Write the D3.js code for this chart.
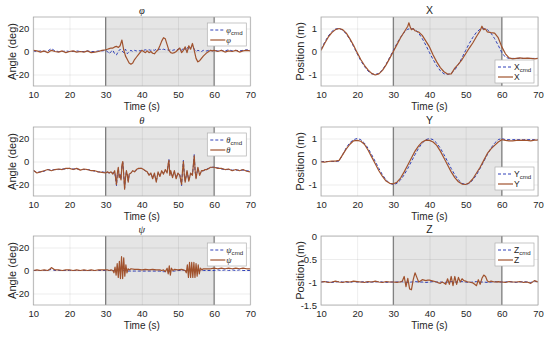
<!DOCTYPE html>
<html>
<head>
<meta charset="utf-8">
<script src="https://cdn.jsdelivr.net/npm/d3@7"></script>
<style>
  body { margin: 0; background: #fff; }
  text { font-family: "Liberation Sans", Arial, sans-serif; fill: #262626; }
</style>
</head>
<body>
<div id="chart"></div>
<script>
// ---- data ----
const timeDomain = [10, 70]
const timeTicks = [10, 20, 30, 40, 50, 60, 70]
const shadeRange = [30, 60]

// roll
const phiTime = [10,11,12,13,14,15,16,17,18,19,20,21,22,23,24,25,26,27,28,29,30,
  30.5,31,31.5,32,32.5,33,33.5,34,34.5,35,35.5,36,36.5,37,37.5,38,38.5,39,39.5,40,
  40.5,41,41.5,42,42.5,43,43.5,44,44.5,45,45.5,46,46.5,47,47.5,48,48.5,49,49.5,50,
  50.5,51,51.5,52,52.5,53,53.5,54,54.5,55,55.5,56,56.5,57,57.5,58,58.5,59,59.5,60,
  61,62,63,64,65,66,67,68,69,70]
const phiAct = [1,0.5,-0.5,0.5,-1,1,0,-0.5,0.5,-1,0,0.5,-0.5,0,-0.5,0.5,-1,-0.5,0,1,1.5,
  2,2.5,3,3,4,4.5,3.5,5,10,1.5,-4,-7,-10,-11,-10,-7,-5,-3,-1,1,
  0,-1,0.5,-1,0,-1.5,-2,0,1.5,5,9,12,11,6,1,-1,-1.5,-1,0,1.5,
  3,-1,1,4,-1,5,2,7,1,-6,-9,-8,-6,-4,-2.5,-1,0,1,0.5,1,
  0,1,-0.5,0.5,0,1,-0.5,0.5,1,0.5]
const phiCmd = [0.5,0,0.5,0,0.5,2.5,0.5,0,0,0.5,0,0,0.5,0,0,0.5,0,0,0.5,0.5,1,
  0,-2,0,1,-2,-3,0,2,0.5,-1,2,-2,0,1,0,1,0.5,1,0.5,1,
  1,1.5,1,1.5,1,1.5,1,2,1.5,2,1.5,2,1.5,1.5,1,1.5,1,1.5,1,2,
  2.5,1,3,1.5,4,2,3.5,5,2,0,1,0.5,0,1,0.5,0.5,1,1,0.5,1,
  0.5,1,0.5,1.5,0.5,1,0.5,1,1.5,1]

// pitch
const thetaTime = [10,11,12,13,14,15,16,17,18,19,20,21,22,23,24,25,26,27,28,29,30,
  30.5,31,31.5,32,32.5,33,33.25,33.5,33.75,34,34.25,34.5,34.75,35,35.25,35.5,35.75,36,36.25,36.5,37,37.5,38,38.5,39,39.5,40,
  40.5,41,41.5,42,42.5,43,43.5,44,44.5,45,45.5,46,46.5,47,47.25,47.5,47.75,48,48.5,49,49.5,50,
  50.5,51,51.25,51.5,51.75,52,52.5,53,53.5,54,54.25,54.5,54.75,55,55.5,56,56.5,57,57.5,58,58.5,59,59.5,60,
  61,62,63,64,65,66,67,68,69,70]
const thetaAct = [-7.5,-10,-9,-8,-7,-8,-7,-6.5,-7,-6,-6,-7,-6,-7.5,-6.5,-7,-8,-8,-9,-9.5,-10,
  -9,-10,-9,-11,-8,-20,-10,-5,-14,-12,-16,-3,0,-12,-24,-14,-8,-12,-18,-11,-10,-8,-9,-7,-6,-6,-6,
  -7,-8,-9,-12,-10,-15,-10,-18,-9,-13,-8,-11,-7,-10,-3,1,-12,-8,-14,-8,-15,-10,
  -12,-20,-8,0,-12,-18,-8,-17,-10,-12,-3,5,-8,-15,-5,-12,-8,-8,-7,-7,-6,-5,-5,-5,
  -6,-6,-7,-6.5,-8,-7,-8,-7,-8.5,-9]
const thetaCmd = [-8,-9.5,-9,-8.5,-7,-7.5,-7,-7,-6.5,-6.5,-6,-6.5,-6.5,-7,-7,-7,-7.5,-8.5,-9,-9,-9.5,
  -9.5,-10,-9.5,-10,-9,-21,-11,-6,-13,-11,-15,-4,-1,-11,-23,-13,-9,-11,-17,-12,-10,-8.5,-8.5,-7.5,-6.5,-6,-6,
  -7,-8.5,-9.5,-11,-10.5,-14,-11,-17,-10,-12,-9,-10,-8,-9,-4,2,-11,-9,-13,-9,-14,-10.5,
  -11,-21,-9,1,-11,-17,-9,-16,-11,-11,-4,6,-9,-14,-6,-11,-8.5,-8,-7.5,-6.5,-6,-5.5,-5,-5,
  -5.5,-6.5,-7,-7,-7.5,-7.5,-7.5,-7.5,-8,-8.5]

// yaw
const psiTime = [10,11,12,13,14,14.5,15,15.5,16,17,18,19,20,21,22,23,24,25,26,27,28,29,30,
  30.5,31,31.5,32,32.3,32.6,32.9,33.2,33.5,33.8,34.1,34.4,34.7,35,35.3,35.6,35.9,36.2,36.6,37,
  38,39,40,41,42,43,44,45,45.5,46,46.5,47,47.3,47.6,47.9,48.2,48.6,49,50,51,
  51.5,52,52.3,52.6,52.9,53.2,53.5,53.8,54.1,54.4,54.7,55,55.3,55.6,55.9,56.2,56.6,57,
  58,59,60,61,62,63,64,65,66,67,68,69,70]
const psiAct = [0,0.5,0,0.5,0,1,2.5,1.5,0.5,0.5,0,0.5,0.5,0,0.5,0,0.5,0,0.5,0,0.5,0.5,0.5,
  0.5,0,0.5,0,-2,3,-4,6,-6,8,-7,12,-7,11,-5,5,-2,1.5,0.5,1.5,
  1,1,0.5,1,0.5,1,0.5,0.5,0,0.5,-1,2,-3,4,-4,2,0,1,0.5,1,
  0.5,0,-2,5,-6,7,-6,7,-6,7,-6,6,-5,5,-3,2,0.5,1.5,
  1.5,1.5,2,1.5,2,1.5,2,1.5,2,1.5,2,1.5,1.5]
const psiCmd = [0,0,0,0,0,0.5,1,0.5,0,0,0,0,0,0,0,0,0,0,0,0,0,0,0,
  0,0,0,0,0,0,0,0,0,0,0,0,0,0,0,0,0,-0.5,-0.5,-0.5,
  -0.5,-0.5,-0.5,-0.5,-0.5,-0.5,-0.5,-0.5,-1,-1,-1,-1,-1,-1,-1,-1,-0.5,-0.5,0,0,
  0,0,0,0,0,0,0,0,0,0,0,0,0,0,0,0,0,0,
  0,0,0,0.5,0,0.5,0,0.5,0,0.5,0,0,0]

// position
const posTime = d3.range(10, 71)   // 1 s samples
const xActTime = [10,11,12,13,14,15,16,17,18,19,20,21,22,23,24,25,26,27,28,29,30,31,32,33,34,
  34.3,34.7,35,35.5,
  36,37,38,39,40,41,42,43,44,45,46,47,48,49,50,51,52,53,54,
  54.5,55,55.5,
  56,57,58,59,60,61,62,63,64,65,66,67,68,69,70]
const xAct = [0.05,0.35,0.62,0.82,0.95,1.0,0.95,0.8,0.55,0.27,-0.05,-0.35,-0.6,-0.8,-0.95,-1.02,-0.97,-0.82,-0.58,-0.3,0.0,0.3,0.6,0.85,1.1,
  1.25,1.05,0.95,1.0,
  0.9,0.85,0.7,0.45,0.2,-0.15,-0.45,-0.7,-0.88,-0.98,-0.97,-0.72,-0.55,-0.35,-0.1,0.15,0.38,0.65,0.9,
  1.1,0.95,0.98,
  0.85,0.82,0.8,0.6,0.2,-0.1,-0.28,-0.32,-0.3,-0.28,-0.3,-0.29,-0.3,-0.32,-0.3]
const xCmd = [0.1,0.4,0.67,0.87,0.98,1.0,0.93,0.76,0.52,0.22,-0.1,-0.4,-0.65,-0.85,-0.97,-1.0,-0.95,-0.8,-0.55,-0.25,
  0.05,0.35,0.62,0.84,0.97,1.0,0.95,0.8,0.56,0.27,-0.05,-0.35,-0.62,-0.84,-0.97,-1.0,-0.95,-0.8,-0.56,-0.27,
  0.05,0.35,0.62,0.84,0.97,1.0,0.95,0.8,0.56,0.27,-0.05,-0.25,-0.3,-0.3,-0.3,-0.3,-0.3,-0.3,-0.3,-0.3,-0.3]

const yAct = [-0.02,-0.03,0.0,0.02,0.02,0.05,0.3,0.55,0.75,0.9,0.92,
  0.88,0.75,0.5,0.2,-0.1,-0.4,-0.65,-0.85,-0.95,-0.97,
  -0.9,-0.72,-0.45,-0.15,0.15,0.45,0.68,0.85,0.93,0.92,
  0.85,0.7,0.45,0.15,-0.15,-0.45,-0.7,-0.88,-0.98,-1.0,
  -0.92,-0.75,-0.5,-0.25,0.05,0.35,0.55,0.7,0.85,0.95,
  0.92,0.9,0.9,0.92,0.92,0.93,0.92,0.9,0.93,0.93]
const yCmd = [0,0,0,0,0,0.02,0.3,0.6,0.82,0.95,1.0,
  0.95,0.8,0.58,0.3,0,-0.3,-0.58,-0.8,-0.95,-1.0,
  -0.95,-0.8,-0.58,-0.3,0,0.3,0.58,0.8,0.95,1.0,
  0.95,0.8,0.58,0.3,0,-0.3,-0.58,-0.8,-0.95,-1.0,
  -0.95,-0.8,-0.58,-0.3,0,0.3,0.58,0.8,0.95,1.0,
  0.95,0.95,0.95,0.95,0.95,0.95,0.95,0.95,0.95,0.95]

const zActTime = [...d3.range(10, 32), ...d3.range(31.5, 57.01, 0.5), ...d3.range(58, 71)]
const zAct = [-1.0,-0.99,-1.01,-1.0,-0.98,-1.0,-1.01,-0.99,-1.0,-0.98,-0.99,-1.0,-1.01,-0.99,-1.0,-0.98,-1.0,-1.01,-0.99,-1.0,-1.0,-1.01,
  -1.0,-1.0,-0.98,-0.88,-1.1,-0.92,-1.15,-1.17,-0.95,-0.8,
  -0.9,-1.0,-0.98,-0.95,-0.96,-0.97,-0.96,-0.96,-0.97,-0.98,
  -0.99,-1.0,-1.02,-1.03,-1.0,-1.02,-1.05,-0.93,-1.05,-0.88,
  -1.08,-0.88,-1.05,-0.9,-1.0,-0.93,-0.97,-0.98,-1.0,-1.0,
  -1.01,-1.02,-1.05,-1.08,-0.95,-1.05,-0.92,-0.85,-0.88,-0.98,
  -1.0,-0.98,
  -1.0,-0.99,-1.0,-1.01,-0.99,-1.0,-1.0,-0.99,-1.01,-1.0,-1.03,-0.97,-1.0]
const zCmd = [-1.0,-0.99,-1.0,-1.01,-1.0,-0.99,-1.0,-1.0,-1.01,-0.99,-1.0,
  -1.0,-0.99,-1.01,-1.0,-1.0,-0.99,-1.0,-1.01,-1.0,-1.0,
  -1.0,-0.99,-1.0,-1.01,-1.0,-0.99,-1.0,-1.0,-1.01,-1.0,
  -0.99,-1.0,-1.0,-1.01,-1.0,-0.99,-1.0,-1.0,-0.99,-1.0,
  -1.01,-1.0,-0.99,-1.0,-1.0,-1.01,-1.0,-0.99,-1.0,-1.0,
  -1.0,-0.99,-1.0,-1.01,-1.0,-0.99,-1.0,-1.01,-0.98,-1.0]

const angleTicks = [-20, 0, 20]
const posTicks = [-1, 0, 1]
const zTicks = [-1.5, -1, -0.5, 0]

// ---- layout ----
const width = 550, height = 337
const colLeft = [33.3, 321]
const plotW = 217
const rowTop = [17, 127, 236]
const plotH = 69
const cmdColor = "#3040b8"
const actColor = "#a0522d"

const panels = [
  {col: 0, row: 0, name: "φ", greek: true, ylabel: "Angle (deg)", yDomain: [-30, 30], yTicks: angleTicks,
   cmd: [phiTime, phiCmd], act: [phiTime, phiAct], legend: {top: 6}},
  {col: 0, row: 1, name: "θ", greek: true, ylabel: "Angle (deg)", yDomain: [-30, 30], yTicks: angleTicks,
   cmd: [thetaTime, thetaCmd], act: [thetaTime, thetaAct], legend: {top: 6}},
  {col: 0, row: 2, name: "ψ", greek: true, ylabel: "Angle (deg)", yDomain: [-30, 30], yTicks: angleTicks,
   cmd: [psiTime, psiCmd], act: [psiTime, psiAct], legend: {top: 7}},
  {col: 1, row: 0, name: "X", greek: false, ylabel: "Position (m)", yDomain: [-1.5, 1.5], yTicks: posTicks,
   cmd: [posTime, xCmd], act: [xActTime, xAct], legend: {bottom: 3}},
  {col: 1, row: 1, name: "Y", greek: false, ylabel: "Position (m)", yDomain: [-1.5, 1.5], yTicks: posTicks,
   cmd: [posTime, yCmd], act: [posTime, yAct], legend: {bottom: 6}},
  {col: 1, row: 2, name: "Z", greek: false, ylabel: "Position (m)", yDomain: [-1.5, 0], yTicks: zTicks,
   cmd: [posTime, zCmd], act: [zActTime, zAct], legend: {top: 7}}
]

const svg = d3.select("#chart").append("svg")
    .attr("width", width)
    .attr("height", height)

svg.append("rect").attr("width", width).attr("height", height).attr("fill", "#fff")

function nameText(sel, p, withSub, size){
    let t = sel.append("tspan").text(p.name)
    if(p.greek)
        t.attr("font-family", "'Liberation Serif', serif").attr("font-style", "italic")
    if(withSub)
        sel.append("tspan").attr("dy", 2).attr("font-size", size * 0.72).text("cmd")
}

function drawPanel(p){
    let x0 = colLeft[p.col], y0 = rowTop[p.row]
    let x = d3.scaleLinear().domain(timeDomain).range([x0, x0 + plotW])
    let y = d3.scaleLinear().domain(p.yDomain).range([y0 + plotH, y0])
    let g = svg.append("g")

    g.append("rect")
        .attr("x", x0).attr("y", y0)
        .attr("width", plotW).attr("height", plotH)
        .attr("fill", "#fff")

    // shaded window
    g.append("rect")
        .attr("x", x(shadeRange[0])).attr("y", y0)
        .attr("width", x(shadeRange[1]) - x(shadeRange[0])).attr("height", plotH)
        .attr("fill", "#e5e5e5")

    // grid + tick labels
    let xAxis = g.append("g")
        .attr("transform", "translate(0," + (y0 + plotH) + ")")
        .call(d3.axisBottom(x).tickValues(timeTicks).tickSizeInner(-plotH).tickSizeOuter(0).tickPadding(5))
    let yAxis = g.append("g")
        .attr("transform", "translate(" + x0 + ",0)")
        .call(d3.axisLeft(y).tickValues(p.yTicks).tickFormat(d => String(d)).tickSizeInner(-plotW).tickSizeOuter(0).tickPadding(4))
    for(const a of [xAxis, yAxis]){
        a.select(".domain").remove()
        a.selectAll(".tick line").attr("stroke", "#000").attr("stroke-opacity", 0.09).attr("stroke-width", 0.8)
        a.selectAll(".tick text").attr("font-size", 9.5).attr("fill", "#3a3a3a")
            .attr("font-family", "'Liberation Sans', Arial, sans-serif")
    }

    // window edges
    g.selectAll(".edge").data(shadeRange).join("line")
        .attr("x1", d => x(d)).attr("x2", d => x(d))
        .attr("y1", y0).attr("y2", y0 + plotH)
        .attr("stroke", "#7a7a7a").attr("stroke-width", 1.2)

    // lines
    let clipId = "clip" + p.col + p.row
    g.append("clipPath").attr("id", clipId).append("rect")
        .attr("x", x0).attr("y", y0).attr("width", plotW).attr("height", plotH)
    let line = d3.line().x(d => x(d[0])).y(d => y(d[1]))
    let cmdPts = d3.zip(p.cmd[0], p.cmd[1])
    let actPts = d3.zip(p.act[0], p.act[1])
    g.append("path").datum(cmdPts)
        .attr("clip-path", "url(#" + clipId + ")")
        .attr("fill", "none").attr("stroke", cmdColor)
        .attr("stroke-width", 1).attr("stroke-dasharray", "3,2")
        .attr("d", line)
    g.append("path").datum(actPts)
        .attr("clip-path", "url(#" + clipId + ")")
        .attr("fill", "none").attr("stroke", actColor)
        .attr("stroke-width", 1.2).attr("stroke-linejoin", "round")
        .attr("d", line)

    // box
    g.append("rect")
        .attr("x", x0).attr("y", y0)
        .attr("width", plotW).attr("height", plotH)
        .attr("fill", "none").attr("stroke", "#a8a8a8").attr("stroke-width", 0.8)

    // title and labels
    let title = g.append("text")
        .attr("x", x0 + plotW / 2).attr("y", y0 - 3)
        .attr("text-anchor", "middle").attr("font-size", 10.5)
    nameText(title, p, false, 10.5)

    g.append("text")
        .attr("x", x0 + plotW / 2).attr("y", y0 + plotH + 24)
        .attr("text-anchor", "middle").attr("font-size", 10)
        .text("Time (s)")

    let lx = x0 - 21, ly = y0 + plotH / 2
    g.append("text")
        .attr("transform", "translate(" + lx + "," + ly + ") rotate(-90)")
        .attr("text-anchor", "middle").attr("dy", "0.35em").attr("font-size", 11)
        .text(p.ylabel)

    // legend
    let lw = 39, lh = 23
    let lxBox = x0 + plotW - 4 - lw
    let lyBox = p.legend.top !== undefined ? y0 + p.legend.top : y0 + plotH - p.legend.bottom - lh
    let lg = g.append("g").attr("transform", "translate(" + lxBox + "," + lyBox + ")")
    lg.append("rect").attr("width", lw).attr("height", lh)
        .attr("fill", "#fff").attr("stroke", "#b0b0b0").attr("stroke-width", 0.7)
    let entries = [
        {color: cmdColor, dash: "3,2", width: 1, sub: true},
        {color: actColor, dash: null, width: 1.2, sub: false}
    ]
    entries.forEach((e, i) => {
        let yy = 7 + i * 10
        lg.append("line").attr("x1", 3).attr("x2", 18).attr("y1", yy).attr("y2", yy)
            .attr("stroke", e.color).attr("stroke-width", e.width)
            .attr("stroke-dasharray", e.dash)
        let t = lg.append("text").attr("x", 19).attr("y", yy + 3).attr("font-size", 8.5)
        nameText(t, p, e.sub, 8.5)
    })
}

panels.forEach(drawPanel)
</script>
</body>
</html>
